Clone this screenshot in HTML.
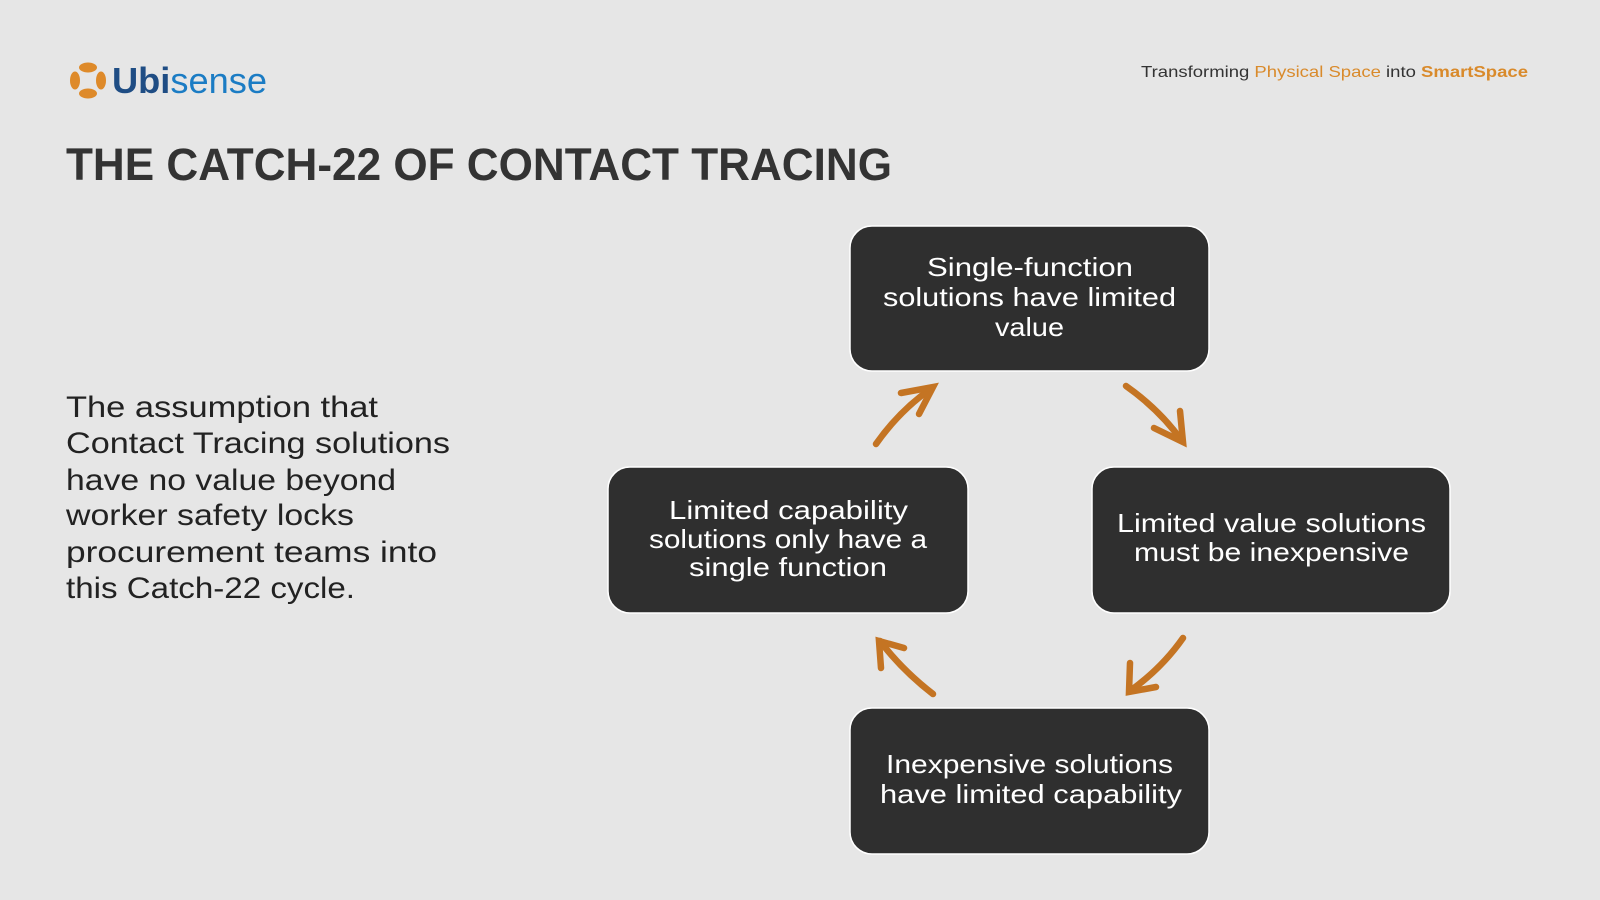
<!DOCTYPE html>
<html><head><meta charset="utf-8"><style>
html,body{margin:0;padding:0;background:#e6e6e6;}
svg{display:block;}
</style></head><body>
<svg width="1600" height="900" viewBox="0 0 1600 900" xmlns="http://www.w3.org/2000/svg" font-family="Liberation Sans, sans-serif">
<rect width="1600" height="900" fill="#e6e6e6"/>
<!-- logo -->
<g fill="#de8a2a">
<ellipse cx="88" cy="67.5" rx="9" ry="5"/>
<ellipse cx="88" cy="93.5" rx="9" ry="5"/>
<ellipse cx="75" cy="80.5" rx="5" ry="9"/>
<ellipse cx="101" cy="80.5" rx="5" ry="9"/>
</g>
<text x="112" y="93" font-size="36" font-weight="bold" textLength="155" lengthAdjust="spacingAndGlyphs"><tspan fill="#1f4d84">Ubi</tspan><tspan fill="#1b7cc4" font-weight="normal">sense</tspan></text>
<!-- tagline -->
<text x="1141" y="77" font-size="16" fill="#333" textLength="387" lengthAdjust="spacingAndGlyphs">Transforming <tspan fill="#d98a2b">Physical Space</tspan> into <tspan fill="#d98a2b" font-weight="bold">SmartSpace</tspan></text>
<!-- title -->
<text x="66" y="180" font-size="45" font-weight="bold" fill="#333" textLength="826" lengthAdjust="spacingAndGlyphs">THE CATCH-22 OF CONTACT TRACING</text>
<!-- paragraph -->
<g font-size="30" fill="#222">
<text x="66" y="417" textLength="312" lengthAdjust="spacingAndGlyphs">The assumption that</text>
<text x="66" y="453" textLength="384" lengthAdjust="spacingAndGlyphs">Contact Tracing solutions</text>
<text x="66" y="490" textLength="330" lengthAdjust="spacingAndGlyphs">have no value beyond</text>
<text x="66" y="525" textLength="288" lengthAdjust="spacingAndGlyphs">worker safety locks</text>
<text x="66" y="562" textLength="371" lengthAdjust="spacingAndGlyphs">procurement teams into</text>
<text x="66" y="598" textLength="289" lengthAdjust="spacingAndGlyphs">this Catch-22 cycle.</text>
</g>
<!-- boxes -->
<g fill="#2f2f2f" stroke="#fff" stroke-width="1.5">
<rect x="850" y="226" width="359" height="145" rx="22"/>
<rect x="608" y="467" width="360" height="146" rx="22"/>
<rect x="1092" y="467" width="358" height="146" rx="22"/>
<rect x="850" y="708" width="359" height="146" rx="22"/>
</g>
<g font-size="26" fill="#fff">
<text x="927" y="276" textLength="206" lengthAdjust="spacingAndGlyphs">Single-function</text>
<text x="883" y="306" textLength="293" lengthAdjust="spacingAndGlyphs">solutions have limited</text>
<text x="995" y="336" textLength="69" lengthAdjust="spacingAndGlyphs">value</text>
<text x="669" y="519" textLength="239" lengthAdjust="spacingAndGlyphs">Limited capability</text>
<text x="649" y="548" textLength="278" lengthAdjust="spacingAndGlyphs">solutions only have a</text>
<text x="689" y="576" textLength="198" lengthAdjust="spacingAndGlyphs">single function</text>
<text x="1117" y="532" textLength="309" lengthAdjust="spacingAndGlyphs">Limited value solutions</text>
<text x="1134" y="561" textLength="275" lengthAdjust="spacingAndGlyphs">must be inexpensive</text>
<text x="886" y="773" textLength="287" lengthAdjust="spacingAndGlyphs">Inexpensive solutions</text>
<text x="880" y="803" textLength="302" lengthAdjust="spacingAndGlyphs">have limited capability</text>
</g>
<!-- arrows -->
<g fill="none" stroke="#c47423" stroke-width="6.5" stroke-linecap="round" stroke-linejoin="miter">
<path d="M876 444 Q900 410 932 388"/>
<path d="M901 393 L933 387 L919 414"/>
<path d="M1126 386 Q1160 410 1182 441"/>
<path d="M1154 428 L1183 442 L1180 411"/>
<path d="M1183 638 Q1162 668 1130 691"/>
<path d="M1130 663 L1129 692 L1156 687"/>
<path d="M933 694 Q902 670 880 641"/>
<path d="M881 668 L879 641 L904 648"/>
</g>
</svg>
</body></html>
